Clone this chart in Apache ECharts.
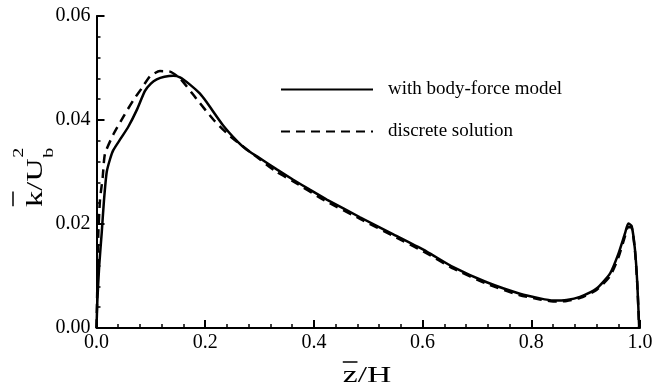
<!DOCTYPE html>
<html>
<head>
<meta charset="utf-8">
<script src="https://cdn.jsdelivr.net/npm/echarts@6/dist/echarts.min.js"></script>
<style>
html,body{margin:0;padding:0;background:#fff;}
#chart{width:664px;height:383px;}
</style>
</head>
<body>
<div id="chart"></div>
<script>
// ---- data ----
var seriesNames = ['with body-force model', 'discrete solution'];
var xTicks = [0.0, 0.2, 0.4, 0.6, 0.8, 1.0];
var yTicks = [0.00, 0.02, 0.04, 0.06];

var zBody = [0, 0.0015, 0.005, 0.0096, 0.0138, 0.0188, 0.025, 0.0309, 0.045, 0.0585, 0.074, 0.0892, 0.10, 0.1108, 0.125, 0.1413, 0.1536, 0.172, 0.19, 0.2028, 0.2327, 0.26, 0.2764, 0.30, 0.3316, 0.362, 0.3925, 0.4236, 0.4848, 0.5461, 0.6075, 0.6565, 0.718, 0.779, 0.816, 0.8405, 0.865, 0.8896, 0.92, 0.945, 0.96, 0.9724, 0.9785, 0.9847, 0.9908, 0.995, 0.9985];
var kBody = [0, 0.005, 0.012, 0.0183, 0.0246, 0.0300, 0.0325, 0.0342, 0.0365, 0.0387, 0.0419, 0.0456, 0.0470, 0.0478, 0.0483, 0.0485, 0.0482, 0.0468, 0.0451, 0.0434, 0.0390, 0.0358, 0.0343, 0.0327, 0.0305, 0.0285, 0.0266, 0.0247, 0.0213, 0.0180, 0.0147, 0.0117, 0.0088, 0.0066, 0.0057, 0.0053, 0.0054, 0.0060, 0.0076, 0.0105, 0.0142, 0.0182, 0.0201, 0.0196, 0.0150, 0.0086, 0];

var zDisc = [0, 0.0015, 0.0033, 0.0064, 0.0114, 0.0156, 0.0309, 0.0493, 0.0677, 0.0832, 0.0984, 0.1168, 0.1352, 0.1536, 0.1844, 0.2149, 0.2466, 0.2885, 0.33, 0.362, 0.42, 0.485, 0.546, 0.607, 0.657, 0.718, 0.779, 0.816, 0.84, 0.865, 0.89, 0.92, 0.945, 0.96, 0.972, 0.978, 0.9847, 0.9908, 0.995, 0.9985];
var kDisc = [0, 0.008, 0.018, 0.0246, 0.0290, 0.0335, 0.0372, 0.0406, 0.0438, 0.0461, 0.0484, 0.0494, 0.0493, 0.0480, 0.0440, 0.0401, 0.0368, 0.0334, 0.0301, 0.0282, 0.0245, 0.0210, 0.0177, 0.0144, 0.0114, 0.0085, 0.0063, 0.0055, 0.0051, 0.0052, 0.0058, 0.0073, 0.0100, 0.0135, 0.0175, 0.0194, 0.0193, 0.0148, 0.0084, 0];

function pairs(xs, ys) { return xs.map(function (x, i) { return [x, ys[i]]; }); }

var FONT = '"Liberation Serif", "Times New Roman", serif';
var chart = echarts.init(document.getElementById('chart'), null, {renderer: 'canvas'});

var option = {
  animation: false,
  backgroundColor: '#fff',
  grid: {left: 96.5, right: 24, top: 16, bottom: 55, containLabel: false},
  legend: {
    show: true,
    orient: 'vertical',
    left: 280, top: 80, padding: 0,
    itemWidth: 92, itemHeight: 20, itemGap: 23,
    data: seriesNames,
    itemStyle: {opacity: 0},
    textStyle: {fontFamily: FONT, fontSize: 19, color: '#000', padding: [0, 0, 0, 10]}
  },
  xAxis: {
    type: 'value', min: 0, max: 1, interval: 0.2,
    axisLine: {show: true, onZero: false, lineStyle: {color: '#000', width: 2}},
    axisTick: {show: true, inside: true, length: 8, lineStyle: {color: '#000', width: 2}},
    minorTick: {show: true, splitNumber: 5, length: 4, lineStyle: {color: '#000', width: 1.5}},
    splitLine: {show: false},
    axisLabel: {margin: 5, fontFamily: FONT, fontSize: 20, color: '#000',
      formatter: function (v) { return v.toFixed(1); }}
  },
  yAxis: {
    type: 'value', min: 0, max: 0.06, interval: 0.02,
    axisLine: {show: true, onZero: false, lineStyle: {color: '#000', width: 2}},
    axisTick: {show: true, inside: true, length: 8, lineStyle: {color: '#000', width: 2}},
    minorTick: {show: true, splitNumber: 5, length: 4, lineStyle: {color: '#000', width: 1.5}},
    splitLine: {show: false},
    axisLabel: {margin: 6, fontFamily: FONT, fontSize: 20, color: '#000',
      formatter: function (v) { return v.toFixed(2); }}
  },
  series: [
    {
      name: seriesNames[1], type: 'line', data: pairs(zDisc, kDisc),
      showSymbol: false, symbol: 'none', smooth: 0.2,
      lineStyle: {color: '#000', width: 2.5, type: [9, 6]},
      itemStyle: {color: '#000'}
    },
    {
      name: seriesNames[0], type: 'line', data: pairs(zBody, kBody),
      showSymbol: false, symbol: 'none', smooth: 0.2,
      lineStyle: {color: '#000', width: 2.5, type: 'solid'},
      itemStyle: {color: '#000'}
    }
  ],
  graphic: [
    {
      type: 'group', x: 367, y: 376, scaleX: 1.4, scaleY: 1,
      children: [
        {type: 'text', x: 0, y: 0, style: {text: 'z/H', fontFamily: FONT, fontSize: 24, fill: '#000', align: 'center', verticalAlign: 'middle'}},
        {type: 'line', shape: {x1: -17.3, y1: -14, x2: -6.8, y2: -14}, style: {stroke: '#000', lineWidth: 1.5}}
      ]
    },
    {
      type: 'group', x: 42, y: 207, rotation: Math.PI / 2, scaleX: 1.35, scaleY: 1,
      children: [
        {type: 'text', x: 0, y: -6.5, style: {text: 'k/U', fontFamily: FONT, fontSize: 24, fill: '#000', align: 'left', verticalAlign: 'middle'}},
        {type: 'text', x: 36.5, y: 7.5, style: {text: 'b', fontFamily: FONT, fontSize: 15, fill: '#000', align: 'left', verticalAlign: 'middle'}},
        {type: 'text', x: 36.5, y: -23, style: {text: '2', fontFamily: FONT, fontSize: 15, fill: '#000', align: 'left', verticalAlign: 'middle'}},
        {type: 'line', shape: {x1: 0.5, y1: -29, x2: 11.5, y2: -29}, style: {stroke: '#000', lineWidth: 1.5}}
      ]
    }
  ]
};
chart.setOption(option);
</script>
</body>
</html>
